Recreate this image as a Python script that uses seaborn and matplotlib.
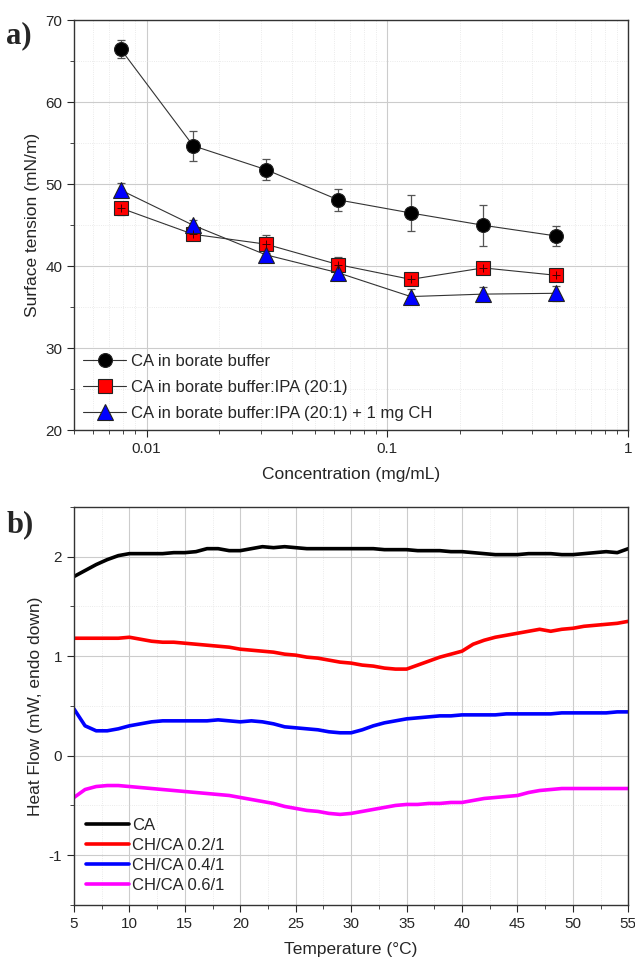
import numpy as np
import pandas as pd
import matplotlib
matplotlib.use("Agg")
import matplotlib.pyplot as plt
import matplotlib.ticker as mticker
import seaborn as sns

# panel a: surface tension vs concentration
conc = [0.0078125, 0.015625, 0.03125, 0.0625, 0.125, 0.25, 0.5]
st_ca = [66.5, 54.7, 51.8, 48.1, 46.5, 45.0, 43.7]
st_ca_err = [1.1, 1.8, 1.3, 1.3, 2.2, 2.5, 1.2]
st_ipa = [47.1, 43.9, 42.7, 40.2, 38.4, 39.8, 38.9]
st_ipa_err = [0.8, 0.6, 1.1, 0.9, 0.5, 0.5, 0.5]
st_ch = [49.3, 45.0, 41.4, 39.2, 36.3, 36.6, 36.7]
st_ch_err = [0.8, 0.6, 0.8, 0.9, 0.9, 0.9, 0.9]
labels_a = ["CA in borate buffer", "CA in borate buffer:IPA (20:1)",
            "CA in borate buffer:IPA (20:1) + 1 mg CH"]

# panel b: DSC heat flow, one reading per degree from 5 to 55 C
temp = list(range(5, 56))
hf_ca = [1.80, 1.86, 1.92, 1.97, 2.01, 2.03, 2.03, 2.03, 2.03, 2.04, 2.04, 2.05, 2.08, 2.08, 2.06, 2.06,
         2.08, 2.10, 2.09, 2.10, 2.09, 2.08, 2.08, 2.08, 2.08, 2.08, 2.08, 2.08, 2.07, 2.07, 2.07, 2.06,
         2.06, 2.06, 2.05, 2.05, 2.04, 2.03, 2.02, 2.02, 2.02, 2.03, 2.03, 2.03, 2.02, 2.02, 2.03, 2.04,
         2.05, 2.04, 2.08]
hf_02 = [1.18, 1.18, 1.18, 1.18, 1.18, 1.19, 1.17, 1.15, 1.14, 1.14, 1.13, 1.12, 1.11, 1.10, 1.09, 1.07,
         1.06, 1.05, 1.04, 1.02, 1.01, 0.99, 0.98, 0.96, 0.94, 0.93, 0.91, 0.90, 0.88, 0.87, 0.87, 0.91,
         0.95, 0.99, 1.02, 1.05, 1.12, 1.16, 1.19, 1.21, 1.23, 1.25, 1.27, 1.25, 1.27, 1.28, 1.30, 1.31,
         1.32, 1.33, 1.35]
hf_04 = [0.47, 0.30, 0.25, 0.25, 0.27, 0.30, 0.32, 0.34, 0.35, 0.35, 0.35, 0.35, 0.35, 0.36, 0.35, 0.34,
         0.35, 0.34, 0.32, 0.29, 0.28, 0.27, 0.26, 0.24, 0.23, 0.23, 0.26, 0.30, 0.33, 0.35, 0.37, 0.38,
         0.39, 0.40, 0.40, 0.41, 0.41, 0.41, 0.41, 0.42, 0.42, 0.42, 0.42, 0.42, 0.43, 0.43, 0.43, 0.43,
         0.43, 0.44, 0.44]
hf_06 = [-0.42, -0.34, -0.31, -0.30, -0.30, -0.31, -0.32, -0.33, -0.34, -0.35, -0.36, -0.37, -0.38, -0.39,
         -0.40, -0.42, -0.44, -0.46, -0.48, -0.51, -0.53, -0.55, -0.56, -0.58, -0.59, -0.58, -0.56, -0.54,
         -0.52, -0.50, -0.49, -0.49, -0.48, -0.48, -0.47, -0.47, -0.45, -0.43, -0.42, -0.41, -0.40, -0.37,
         -0.35, -0.34, -0.33, -0.33, -0.33, -0.33, -0.33, -0.33, -0.33]
labels_b = ["CA", "CH/CA 0.2/1", "CH/CA 0.4/1", "CH/CA 0.6/1"]

sns.set_style("ticks")
plt.rcParams['font.family'] = ['Liberation Sans', 'DejaVu Sans']
plt.rcParams['axes.unicode_minus'] = False

fig = plt.figure(figsize=(6.35, 9.71), dpi=100)
ax1 = fig.add_axes([0.1165, 0.557, 0.873, 0.422])
ax2 = fig.add_axes([0.1165, 0.068, 0.873, 0.410])

# ---- panel a ----
series_a = [
    (st_ca, st_ca_err, "black", "o", labels_a[0]),
    (st_ipa, st_ipa_err, "red", "s", labels_a[1]),
    (st_ch, st_ch_err, "blue", "^", labels_a[2]),
]
for y, err, col, mk, lab in series_a:
    ax1.errorbar(conc, y, yerr=err, fmt="none", ecolor="#555555", elinewidth=0.9,
                 capsize=3, capthick=0.9, zorder=2)
    sns.lineplot(x=conc, y=y, ax=ax1, color="#333333", lw=0.8, marker=mk,
                 markersize=10 if mk != "^" else 11, markerfacecolor=col,
                 markeredgecolor="#222222", markeredgewidth=0.8, label=lab, zorder=3)
# crosshair inside the red squares
sns.scatterplot(x=conc, y=st_ipa, ax=ax1, marker="+", s=40, color="#400000",
                linewidth=0.7, zorder=4, legend=False)

ax1.set_xscale("log")
ax1.set_xlim(0.005, 1)
ax1.set_ylim(20, 70)
ax1.xaxis.set_major_locator(mticker.FixedLocator([0.01, 0.1, 1]))
ax1.xaxis.set_major_formatter(mticker.FixedFormatter(["0.01", "0.1", "1"]))
ax1.xaxis.set_minor_locator(mticker.LogLocator(subs=np.arange(2, 10)))
ax1.xaxis.set_minor_formatter(mticker.NullFormatter())
ax1.yaxis.set_major_locator(mticker.MultipleLocator(10))
ax1.yaxis.set_minor_locator(mticker.MultipleLocator(5))
ax1.set_xlabel("Concentration (mg/mL)", fontsize=12.5, labelpad=8)
ax1.set_ylabel("Surface tension (mN/m)", fontsize=12.5)
ax1.legend(loc="lower left", frameon=False, fontsize=12, handlelength=2.6,
           borderaxespad=0.15, labelspacing=0.65, handletextpad=0.3)

# ---- panel b ----
dsc = pd.DataFrame({
    "Temperature": temp * 4,
    "Heat flow": hf_ca + hf_02 + hf_04 + hf_06,
    "Sample": sum([[lab] * len(temp) for lab in labels_b], []),
})
sns.lineplot(data=dsc, x="Temperature", y="Heat flow", hue="Sample", ax=ax2,
             palette=["black", "red", "blue", "magenta"], lw=2.6)
ax2.set_xlim(5, 55)
ax2.set_ylim(-1.5, 2.5)
ax2.xaxis.set_major_locator(mticker.MultipleLocator(5))
ax2.xaxis.set_minor_locator(mticker.MultipleLocator(2.5))
ax2.yaxis.set_major_locator(mticker.MultipleLocator(1))
ax2.yaxis.set_minor_locator(mticker.MultipleLocator(0.5))
ax2.set_xlabel("Temperature (°C)", fontsize=12.5, labelpad=8)
ax2.set_ylabel("Heat Flow (mW, endo down)", fontsize=12.5)
leg = ax2.legend(loc="lower left", frameon=False, fontsize=12, handlelength=2.6,
                 borderaxespad=0.3, labelspacing=0.3, handletextpad=0.2)
for h in leg.get_lines():
    h.set_linewidth(2.6)

for ax in (ax1, ax2):
    ax.grid(True, which="major", color="#cccccc", lw=0.8)
    ax.grid(True, which="minor", color="#e4e4e4", lw=0.6, ls=":")
    ax.set_axisbelow(True)
    ax.tick_params(which="major", direction="out", length=5, width=0.8, labelsize=11)
    ax.tick_params(which="minor", direction="out", length=3, width=0.6)
    for s in ax.spines.values():
        s.set_visible(True)
        s.set_color("#333333")
        s.set_linewidth(1.0)

fig.text(0.01, 0.955, "a)", fontsize=22, fontweight="bold", family="Liberation Serif")
fig.text(0.01, 0.452, "b)", fontsize=22, fontweight="bold", family="Liberation Serif")

fig.savefig("out.png", dpi=100)
